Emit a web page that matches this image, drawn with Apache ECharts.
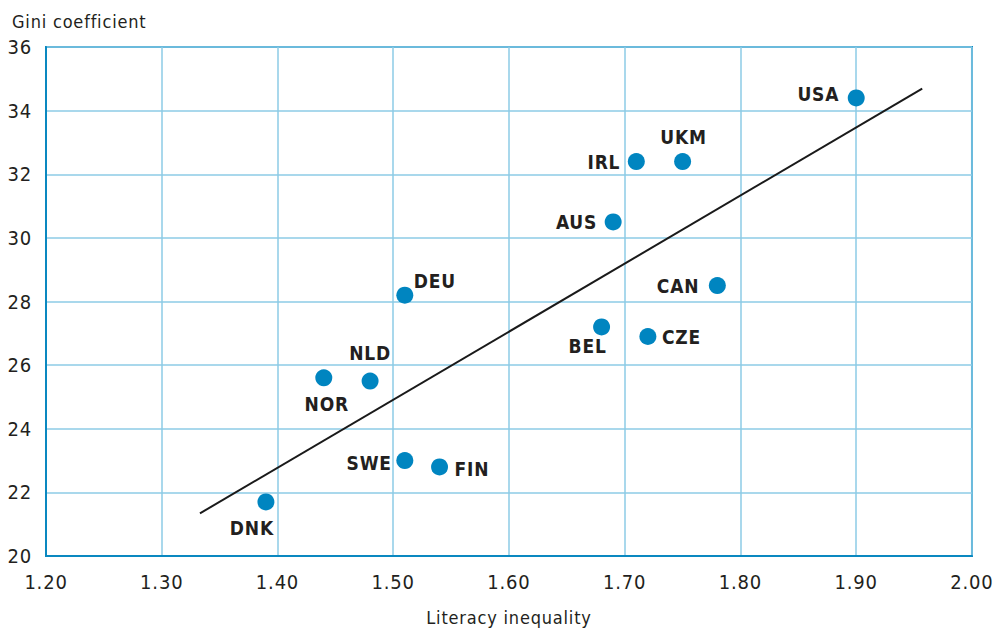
<!DOCTYPE html>
<html><head><meta charset="utf-8">
<script src="https://cdn.jsdelivr.net/npm/echarts@6/dist/echarts.min.js"></script>
<style>
html,body{margin:0;padding:0;background:#fff;}
#c{width:995px;height:631px;}
#c svg text{letter-spacing:0.8px;}
</style></head><body><div id="c"></div>
<script>
const countries=['DNK','NOR','NLD','DEU','SWE','FIN','BEL','CZE','CAN','AUS','IRL','UKM','USA'];
const literacy=[1.39,1.44,1.48,1.51,1.51,1.54,1.68,1.72,1.78,1.69,1.71,1.75,1.90];
const gini=[21.7,25.6,25.5,28.2,23.0,22.8,27.2,26.9,28.5,30.5,32.4,32.4,34.4];
const trendX=[1.333,1.957];
const trendY=[21.34,34.69];
const xTickLabels=['1.20','1.30','1.40','1.50','1.60','1.70','1.80','1.90','2.00'];
const yTickLabels=['20','22','24','26','28','30','32','34','36'];

const labelCfg={
  DNK:{align:'center',offset:[-14,26]},
  NOR:{align:'center',offset:[3,26]},
  NLD:{align:'center',offset:[0,-28]},
  DEU:{align:'left',offset:[9,-14]},
  SWE:{align:'right',offset:[-13,2]},
  FIN:{align:'left',offset:[15,2]},
  BEL:{align:'center',offset:[-14,19]},
  CZE:{align:'left',offset:[14,1]},
  CAN:{align:'right',offset:[-18,0]},
  AUS:{align:'right',offset:[-16,0]},
  IRL:{align:'right',offset:[-16,0]},
  UKM:{align:'center',offset:[1,-25]},
  USA:{align:'right',offset:[-17,-4]}
};

const pts=countries.map((c,i)=>({
  value:[literacy[i],gini[i]],
  name:c,
  label:{show:true,position:'inside',align:labelCfg[c].align,verticalAlign:'middle',offset:labelCfg[c].offset}
}));

const FONT="'DejaVu Sans Condensed','Liberation Sans Narrow','Liberation Sans',sans-serif";
const chart=echarts.init(document.getElementById('c'),null,{renderer:'svg'});
chart.setOption({
  animation:false,
  backgroundColor:'#fff',
  title:{text:'Gini coefficient',left:7,top:7,textStyle:{fontFamily:FONT,fontSize:18,fontWeight:'normal',color:'#231f20'}},
  grid:{left:46,right:21,top:47,bottom:72,show:true,borderColor:'#0a88c0',borderWidth:2,backgroundColor:'transparent'},
  xAxis:{
    type:'value',min:1.2,max:2.0,interval:0.1,
    name:'Literacy inequality',nameLocation:'middle',nameGap:52,
    nameTextStyle:{fontFamily:FONT,fontSize:18,color:'#231f20'},
    axisLine:{show:true,lineStyle:{color:'#0a88c0',width:2}},
    axisTick:{show:false},
    splitLine:{show:true,lineStyle:{color:'#8ccbe6',width:1.5}},
    axisLabel:{margin:16,fontFamily:FONT,fontSize:20,color:'#231f20',
      formatter:v=>xTickLabels[Math.round((v-1.2)/0.1)]}
  },
  yAxis:{
    type:'value',min:20,max:36,interval:2,
    axisLine:{show:true,lineStyle:{color:'#0a88c0',width:2}},
    axisTick:{show:false},
    splitLine:{show:true,lineStyle:{color:'#8ccbe6',width:1.5}},
    axisLabel:{margin:14,fontFamily:FONT,fontSize:20,color:'#231f20',
      formatter:v=>yTickLabels[Math.round((v-20)/2)]}
  },
  series:[
    {type:'line',data:trendX.map((x,i)=>[x,trendY[i]]),symbol:'none',
     lineStyle:{color:'#1a1a1a',width:2},z:3,silent:true},
    {type:'scatter',data:pts,symbolSize:17,z:4,
     itemStyle:{color:'#0085c0',opacity:1},
     label:{fontFamily:FONT,fontSize:19,fontWeight:'bold',color:'#231f20',
       formatter:p=>p.name}}
  ]
});
</script></body></html>
